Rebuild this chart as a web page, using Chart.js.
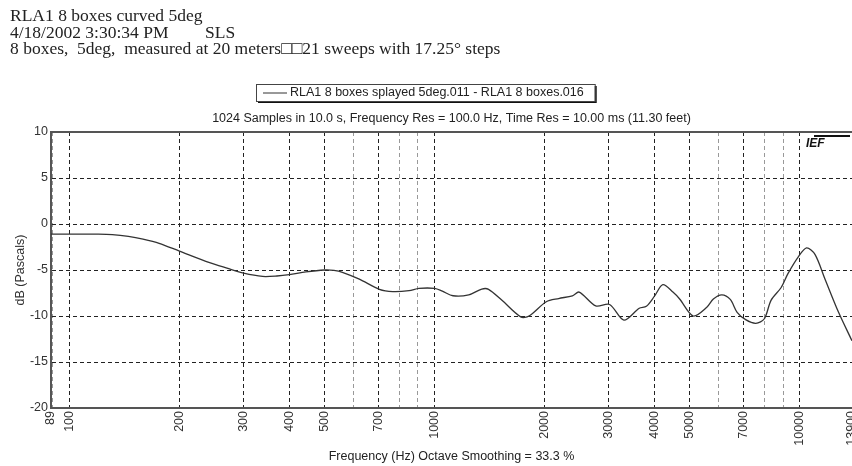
<!DOCTYPE html>
<html>
<head>
<meta charset="utf-8">
<script src="https://cdn.jsdelivr.net/npm/chart.js@4.4.1/dist/chart.umd.min.js"></script>
<style>
  html, body { margin: 0; padding: 0; background: #fff; overflow: hidden; }
  #wrap { position: relative; width: 852px; height: 466px; overflow: hidden; }
  canvas { position: absolute; left: 0; top: 0; }
</style>
</head>
<body>
<div id="wrap"><canvas id="grafico" width="870" height="466"></canvas></div>
<script>
// resposta em frequencia (Hz / dB)
const freqs = [89, 100, 120, 131, 145, 159, 176, 200, 242, 270, 300, 338, 370, 400, 444, 500, 530, 559,
  622, 706, 768, 851, 906, 1000, 1050, 1123, 1240, 1346, 1405, 1529, 1721, 1813, 2022, 2186, 2384,
  2488, 2762, 3015, 3298, 3634, 3800, 4000, 4217, 4493, 4688, 5107, 5564, 5799, 6117, 6451, 6736,
  7108, 7579, 7998, 8341, 8893, 9281, 9897, 10437, 11005, 11727, 12770, 13900];
const dbValues = [-1.1, -1.1, -1.1, -1.15, -1.35, -1.65, -2.1, -2.95, -4.2, -4.8, -5.35, -5.7, -5.65,
  -5.5, -5.2, -5.0, -5.05, -5.25, -6.0, -7.1, -7.35, -7.25, -7.0, -7.0, -7.3, -7.8, -7.7, -7.07, -7.1,
  -8.3, -10.1, -10.0, -8.45, -8.1, -7.8, -7.4, -8.9, -8.75, -10.45, -9.15, -8.95, -7.85, -6.6, -7.4,
  -8.15, -10.0, -9.05, -8.15, -7.7, -8.2, -9.6, -10.4, -10.8, -10.3, -8.3, -6.9, -5.4, -3.6, -2.6,
  -3.3, -6.0, -9.6, -12.7];

const xMin = 89;
const xMax = 13900;
const xTicksLabeled = [89, 100, 200, 300, 400, 500, 700, 1000, 2000, 3000, 4000, 5000, 7000, 10000, 13900];
const xTicksMinor = [90, 600, 800, 900, 6000, 8000, 9000];
const yTicks = [-20, -15, -10, -5, 0, 5, 10];

const headerLines = [
  'RLA1 8 boxes curved 5deg',
  '4/18/2002 3:30:34 PM',
  '8 boxes,  5deg,  measured at 20 meters\u25a1\u25a121 sweeps with 17.25\u00b0 steps'
];
const headerExtra = 'SLS';
const serieLabel = 'RLA1 8 boxes splayed 5deg.011 - RLA1 8 boxes.016';
const subtitulo = '1024 Samples in 10.0 s, Frequency Res = 100.0 Hz, Time Res = 10.00 ms (11.30 feet)';
const tituloX = 'Frequency (Hz) Octave Smoothing = 33.3 %';
const tituloY = 'dB (Pascals)';

const pontos = freqs.map((f, i) => ({ x: f, y: dbValues[i] }));
const todosTicksX = xTicksLabeled.concat(xTicksMinor).sort((a, b) => a - b);

const sans = '"Liberation Sans", Arial, sans-serif';
const serif = '"Liberation Serif", "Times New Roman", serif';
const fs = 12.5;

// cabecalho, legenda, subtitulo e moldura superior
const cabecalho = {
  id: 'cabecalho',
  beforeDraw(chart) {
    const ctx = chart.ctx;
    const area = chart.chartArea;
    ctx.save();
    ctx.fillStyle = '#fff';
    ctx.fillRect(0, 0, chart.width, chart.height);

    ctx.fillStyle = '#222';
    ctx.font = '17.5px ' + serif;
    ctx.textBaseline = 'alphabetic';
    ctx.textAlign = 'left';
    const bases = [21, 38, 54];
    headerLines.forEach((t, i) => ctx.fillText(t, 10, bases[i]));
    ctx.fillText(headerExtra, 205, bases[1]);

    // caixa da legenda
    ctx.font = fs + 'px ' + sans;
    const tw = ctx.measureText(serieLabel).width;
    const bx = 256, by = 84, bh = 17;
    const bw = tw + 45;
    ctx.fillStyle = '#111';
    ctx.fillRect(bx + 2, by + 2, bw, bh);
    ctx.fillStyle = '#fff';
    ctx.fillRect(bx, by, bw, bh);
    ctx.strokeStyle = '#444';
    ctx.lineWidth = 1;
    ctx.strokeRect(bx + 0.5, by + 0.5, bw, bh);
    ctx.strokeStyle = '#333';
    ctx.beginPath();
    ctx.moveTo(bx + 7, by + 9);
    ctx.lineTo(bx + 31, by + 9);
    ctx.stroke();
    ctx.fillStyle = '#222';
    ctx.textBaseline = 'middle';
    ctx.fillText(serieLabel, bx + 34, by + 9);

    ctx.textAlign = 'center';
    ctx.fillText(subtitulo, (area.left + area.right) / 2, 119);
    ctx.restore();
  },
  afterDraw(chart) {
    const ctx = chart.ctx;
    const area = chart.chartArea;
    ctx.save();
    ctx.strokeStyle = '#555';
    ctx.lineWidth = 2;
    ctx.beginPath();
    ctx.moveTo(area.left, area.top);
    ctx.lineTo(area.right, area.top);
    ctx.stroke();
    // logotipo
    ctx.fillStyle = '#111';
    ctx.fillRect(area.right - 38, area.top + 3, 36, 2);
    ctx.font = 'italic bold 12px ' + sans;
    ctx.textAlign = 'left';
    ctx.textBaseline = 'alphabetic';
    ctx.fillText('IEF', area.right - 46, area.top + 15);
    ctx.restore();
  }
};

const ctx = document.getElementById('grafico').getContext('2d');

const grafico = new Chart(ctx, {
  type: 'scatter',
  data: {
    datasets: [{
      label: serieLabel,
      data: pontos,
      showLine: true,
      borderColor: '#333',
      borderWidth: 1.3,
      pointRadius: 0,
      tension: 0.3
    }]
  },
  options: {
    responsive: false,
    animation: false,
    layout: { padding: { top: 132, right: 17, left: 0, bottom: 0 } },
    plugins: {
      legend: { display: false },
      title: { display: false },
      tooltip: { enabled: false }
    },
    scales: {
      x: {
        type: 'logarithmic',
        min: xMin,
        max: xMax,
        afterBuildTicks: (scale) => {
          scale.ticks = todosTicksX.map(v => ({ value: v }));
        },
        afterFit: (scale) => { scale.height = 58; },
        ticks: {
          autoSkip: false,
          minRotation: 90,
          maxRotation: 90,
          padding: 3,
          color: '#333',
          font: { family: sans, size: fs },
          callback: (v) => xTicksLabeled.includes(v) ? String(v) : ''
        },
        grid: {
          drawTicks: false,
          color: (c) => xTicksLabeled.includes(c.tick && c.tick.value) ? '#222' : '#999',
          lineWidth: 1
        },
        border: { display: true, color: '#555', width: 2, dash: [4, 3] },
        title: {
          display: true,
          text: tituloX,
          color: '#222',
          font: { family: sans, size: fs },
          padding: { top: 0, bottom: 1.5 }
        }
      },
      y: {
        min: -20,
        max: 10,
        afterBuildTicks: (scale) => {
          scale.ticks = yTicks.map(v => ({ value: v }));
        },
        afterFit: (scale) => { scale.width = 51; },
        ticks: {
          padding: 3,
          color: '#333',
          font: { family: sans, size: fs }
        },
        grid: {
          drawTicks: false,
          color: (c) => (c.tick && (c.tick.value === 10 || c.tick.value === -20)) ? 'rgba(0,0,0,0)' : '#222',
          lineWidth: 1
        },
        border: { display: true, color: '#555', width: 2, dash: [4, 3] },
        title: {
          display: true,
          text: tituloY,
          color: '#333',
          font: { family: sans, size: fs },
          padding: { top: 13, bottom: 0 }
        }
      }
    }
  },
  plugins: [cabecalho]
});
</script>
</body>
</html>
